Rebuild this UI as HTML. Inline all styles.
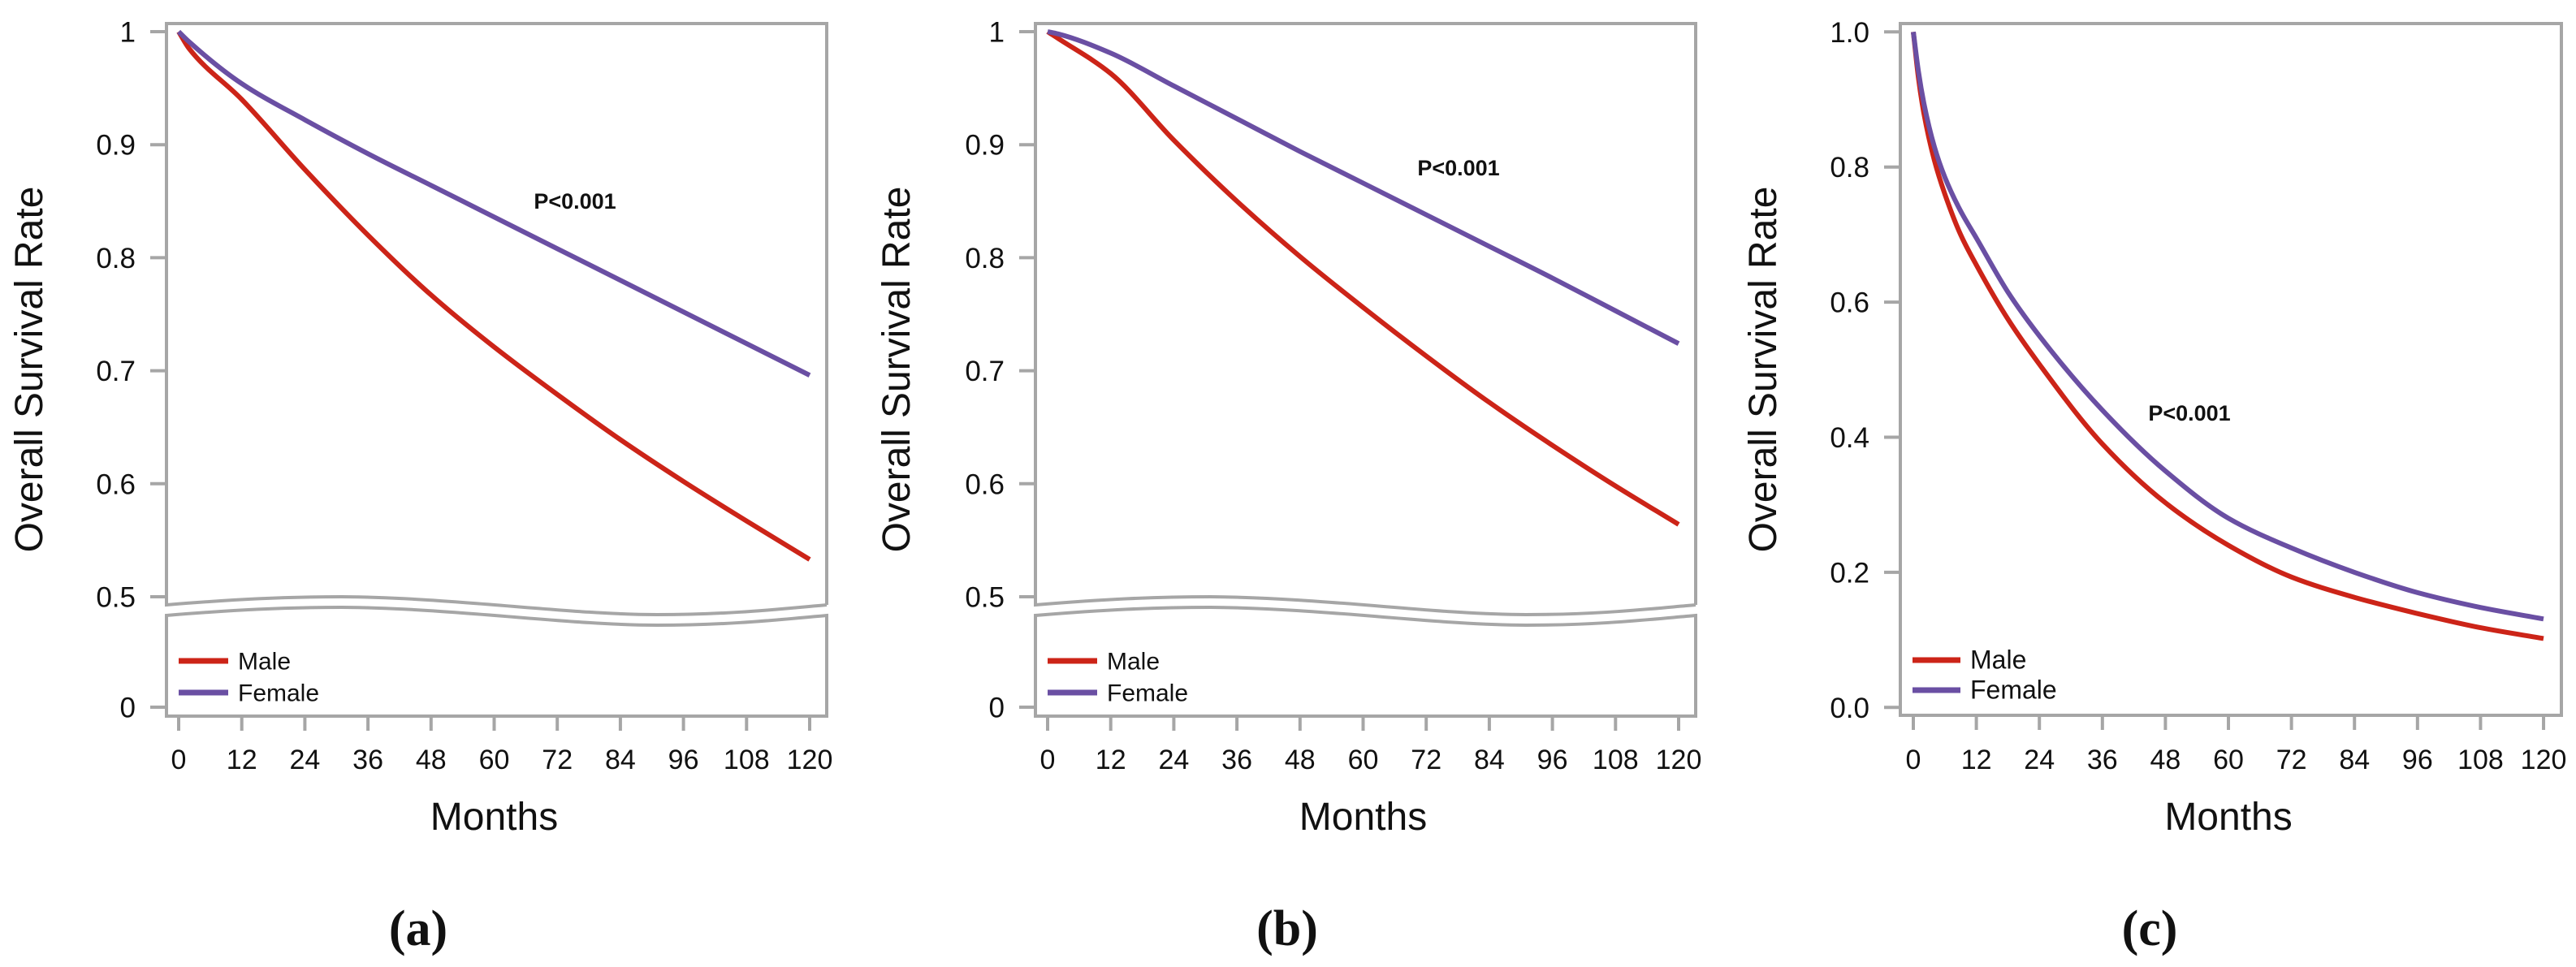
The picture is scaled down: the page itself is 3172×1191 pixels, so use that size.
<!DOCTYPE html>
<html><head><meta charset="utf-8"><style>
html,body{margin:0;padding:0;background:#fff;}
svg{display:block;}
text{font-family:"Liberation Sans",Arial,sans-serif;fill:#111;}
.ser{font-family:"Liberation Serif","Times New Roman",serif;font-weight:bold;}
</style></head><body>
<svg id="fig" width="3172" height="1191" viewBox="0 0 3172 1191" xmlns="http://www.w3.org/2000/svg"></svg>
<script>
// ---- data ----
const monthsAB = [0, 2, 12, 24, 36, 48, 60, 72, 84, 96, 108, 120];
const maleA   = [1, 0.985, 0.94, 0.878, 0.82, 0.767, 0.721, 0.679, 0.639, 0.602, 0.567, 0.533];
const femaleA = [1, 0.991, 0.954, 0.922, 0.892, 0.864, 0.836, 0.808, 0.780, 0.752, 0.724, 0.696];
const maleB   = [1, 0.994, 0.963, 0.904, 0.850, 0.801, 0.756, 0.713, 0.672, 0.634, 0.598, 0.564];
const femaleB = [1, 0.998, 0.981, 0.952, 0.923, 0.894, 0.866, 0.838, 0.81, 0.782, 0.753, 0.724];
const monthsC = [0, 1, 2, 4, 6, 9, 12, 18, 24, 36, 48, 60, 72, 84, 96, 108, 120];
const maleC   = [1, 0.93, 0.88, 0.81, 0.76, 0.70, 0.655, 0.575, 0.508, 0.39, 0.303, 0.24, 0.193, 0.163, 0.139, 0.118, 0.102];
const femaleC = [1, 0.94, 0.895, 0.83, 0.785, 0.735, 0.695, 0.615, 0.55, 0.44, 0.35, 0.28, 0.236, 0.20, 0.17, 0.148, 0.131];
const xTicks = [0, 12, 24, 36, 48, 60, 72, 84, 96, 108, 120];
const yTicksAB = [1, 0.9, 0.8, 0.7, 0.6, 0.5];
const yTickLabelsAB = ["1", "0.9", "0.8", "0.7", "0.6", "0.5"];
const yTicksC = [1, 0.8, 0.6, 0.4, 0.2, 0];
const yTickLabelsC = ["1.0", "0.8", "0.6", "0.4", "0.2", "0.0"];
const legendLabels = ["Male", "Female"];

const NS = "http://www.w3.org/2000/svg";
const svg = document.getElementById("fig");
const RED = "#cc2418", PURPLE = "#6a4fa3", GRAY = "#a6a6a6";
function mk(tag, attrs, parent, text) {
  const e = document.createElementNS(NS, tag);
  for (const k in attrs) e.setAttribute(k, attrs[k]);
  if (text !== undefined) e.textContent = text;
  (parent || svg).appendChild(e);
  return e;
}
function monoPath(xs, ys) {
  const n = xs.length, d = [], m = new Array(n);
  for (let i = 0; i < n - 1; i++) d.push((ys[i + 1] - ys[i]) / (xs[i + 1] - xs[i]));
  m[0] = d[0]; m[n - 1] = d[n - 2];
  for (let i = 1; i < n - 1; i++) {
    if (d[i - 1] * d[i] <= 0) m[i] = 0;
    else {
      const h0 = xs[i] - xs[i - 1], h1 = xs[i + 1] - xs[i];
      const w1 = 2 * h1 + h0, w2 = h1 + 2 * h0;
      m[i] = (w1 + w2) / (w1 / d[i - 1] + w2 / d[i]);
    }
  }
  let p = "M" + xs[0].toFixed(1) + "," + ys[0].toFixed(1);
  for (let i = 0; i < n - 1; i++) {
    const h = xs[i + 1] - xs[i];
    p += " C" + (xs[i] + h / 3).toFixed(1) + "," + (ys[i] + m[i] * h / 3).toFixed(1) + " " +
      (xs[i + 1] - h / 3).toFixed(1) + "," + (ys[i + 1] - m[i + 1] * h / 3).toFixed(1) + " " +
      xs[i + 1].toFixed(1) + "," + ys[i + 1].toFixed(1);
  }
  return p;
}

function panel(cfg) {
  const g = mk("g", {});
  
  
  const L = cfg.left, R = cfg.right, T = 29, B = cfg.bottom;
  const fr = {fill: "none", stroke: GRAY, "stroke-width": 4};
  if (cfg.broken) {
    const dx = L - 205;
    const wave = (o) => " C" + (290 + dx) + "," + (738 + o) + " " + (350 + dx) + "," + (735 + o) + " " + (421 + dx) + "," + (735 + o) +
      " C" + (560 + dx) + "," + (736 + o) + " " + (700 + dx) + "," + (757 + o) + " " + (809 + dx) + "," + (757 + o) +
      " C" + (900 + dx) + "," + (757 + o) + " " + (960 + dx) + "," + (750 + o) + " " + (1018 + dx) + "," + (745 + o);
    const up = mk("path", Object.assign({d: "M" + R + ",745 L" + R + "," + T + " L" + L + "," + T + " L" + L + ",745" + wave(0)}, fr), g);
    
    
    const lo = mk("path", Object.assign({d: "M" + L + ",758" + wave(13) + " L" + R + "," + B + " L" + L + "," + B + " Z"}, fr), g);
    
    
  } else {
    const f = mk("rect", Object.assign({x: L, y: T, width: R - L, height: B - T}, fr), g);
    
    
  }
  cfg.yTicks.forEach((v, i) => {
    const y = cfg.ys(v);
    const t = mk("line", {x1: L - 20, x2: L, y1: y, y2: y, stroke: GRAY, "stroke-width": 4}, g);
    
    
    const lb = mk("text", {x: L - 38, y: y + 12.5, "text-anchor": "end", "font-size": 35}, g, cfg.yLabels[i]);
    
    
  });
  xTicks.forEach(m => {
    const x = cfg.xs(m);
    const t = mk("line", {x1: x, x2: x, y1: B, y2: B + 18, stroke: GRAY, "stroke-width": 4}, g);
    
    
    const lb = mk("text", {x: x, y: 947, "text-anchor": "middle", "font-size": 34}, g, String(m));
    
    
  });
  [[cfg.male, RED, "male-curve"], [cfg.female, PURPLE, "female-curve"]].forEach(s => {
    const px = cfg.months.map(m => cfg.xs(m));
    const py = s[0].map(v => cfg.ys(v));
    const p = mk("path", {d: monoPath(px, py), fill: "none", stroke: s[1], "stroke-width": 6, "stroke-linejoin": "round"}, g);
    
    
  });
  const lg = mk("g", {}, g);
  
  
  [RED, PURPLE].forEach((c, i) => {
    const y = cfg.legY[i];
    const ln = mk("line", {x1: cfg.legX, x2: cfg.legX + cfg.legW, y1: y, y2: y, stroke: c, "stroke-width": 7}, lg);
    
    
    const tx = mk("text", {x: cfg.legX + cfg.legW + 12, y: y + 10.5, "font-size": cfg.legFont}, lg, legendLabels[i]);
    
    
  });
  const pv = mk("text", {x: cfg.pX, y: cfg.pY, "text-anchor": "middle", "font-size": 27, "font-weight": "bold"}, g, "P<0.001");
  
  
  const xt = mk("text", {x: cfg.xs(60), y: 1022, "text-anchor": "middle", "font-size": 48}, g, "Months");
  
  
  const yt = mk("text", {x: 0, y: 0, "text-anchor": "middle", "font-size": 48, transform: "translate(" + (cfg.yTitleX + 17) + ",455) rotate(-90)"}, g, "Overall Survival Rate");
  
  
  const pl = mk("text", {x: cfg.labelX, y: 1164, "text-anchor": "middle", "font-size": 62, "class": "ser"}, g, cfg.label);
  
  
}

function yAB(v) { return v >= 0.5 ? 39 + (1 - v) * 1392 : 871; }
panel({name: "panel-a", left: 205, right: 1018, bottom: 882, broken: true,
  xs: m => 220 + m * 6.475, ys: yAB, yTicks: yTicksAB.concat([0]), yLabels: yTickLabelsAB.concat(["0"]),
  months: monthsAB, male: maleA, female: femaleA,
  legX: 220, legW: 61, legY: [814, 853], legFont: 30, pX: 708, pY: 257, yTitleX: 35, labelX: 515, label: "(a)"});
panel({name: "panel-b", left: 1275, right: 2088, bottom: 882, broken: true,
  xs: m => 1290 + m * 6.475, ys: yAB, yTicks: yTicksAB.concat([0]), yLabels: yTickLabelsAB.concat(["0"]),
  months: monthsAB, male: maleB, female: femaleB,
  legX: 1290, legW: 61, legY: [814, 853], legFont: 30, pX: 1796, pY: 216, yTitleX: 1103, labelX: 1585, label: "(b)"});
panel({name: "panel-c", left: 2340, right: 3154, bottom: 881, broken: false,
  xs: m => 2356 + m * 6.467, ys: v => 39.3 + (1 - v) * 832, yTicks: yTicksC, yLabels: yTickLabelsC,
  months: monthsC, male: maleC, female: femaleC,
  legX: 2355, legW: 59, legY: [813, 850], legFont: 32, pX: 2696, pY: 518, yTitleX: 2170, labelX: 2647, label: "(c)"});
</script>
</body></html>
